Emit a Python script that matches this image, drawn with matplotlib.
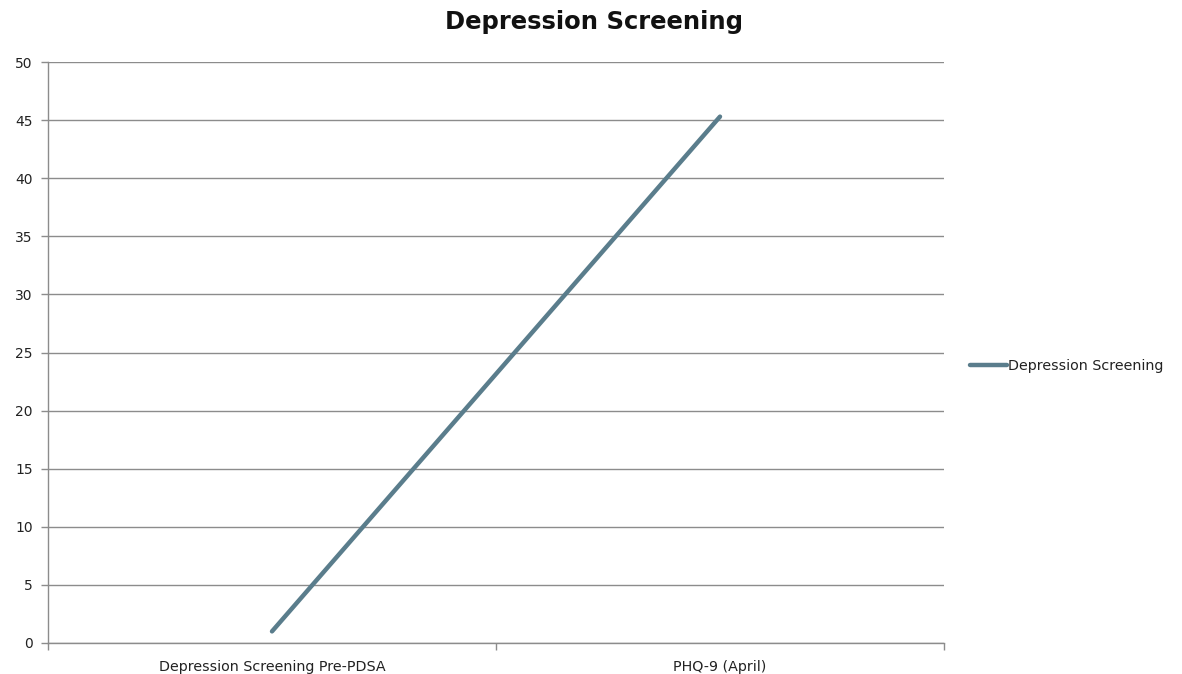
import matplotlib
matplotlib.use("Agg")
import matplotlib.pyplot as plt

categories = ["Depression Screening Pre-PDSA", "PHQ-9 (April)"]
values = [1, 45.3]
series_name = "Depression Screening"
title = "Depression Screening"
y_ticks = [0, 5, 10, 15, 20, 25, 30, 35, 40, 45, 50]

line_color = "#5A7D8C"
grid_color = "#8C8C8C"

fig = plt.figure(figsize=(11.82, 6.74), dpi=100)
ax = fig.add_axes([48 / 1182, 1 - 643 / 674, 896 / 1182, 581 / 674])

x = list(range(len(categories)))
ax.plot(x, values, color=line_color, lw=3.2, solid_capstyle="round", label=series_name)

ax.set_xlim(-0.5, len(categories) - 0.5)
ax.set_ylim(0, 50)
ax.set_yticks(y_ticks)
ax.set_yticklabels([str(v) for v in y_ticks], fontsize=10, color="#222222")
ax.yaxis.grid(True, color=grid_color, lw=1)
ax.set_axisbelow(True)

ax.set_xticks(x)
ax.set_xticklabels(categories, fontsize=10.3, color="#222222")
ax.set_xticks([i - 0.5 for i in range(len(categories) + 1)], minor=True)
ax.tick_params(axis="x", which="major", length=0, pad=12)
ax.tick_params(axis="x", which="minor", length=5, color=grid_color, width=1)
ax.tick_params(axis="y", length=5, color=grid_color, width=1, pad=6)

for side in ("top", "right"):
    ax.spines[side].set_visible(False)
for side in ("left", "bottom"):
    ax.spines[side].set_color(grid_color)
    ax.spines[side].set_linewidth(1)

fig.suptitle(title, x=594 / 1182, y=1 - 22 / 674, va="center",
             fontsize=17.5, fontweight="bold", color="#111111")

leg = ax.legend(loc="center left", bbox_to_anchor=(964 / 1182, 1 - 366 / 674),
                bbox_transform=fig.transFigure, frameon=False, fontsize=10.3,
                handlelength=2.6, handletextpad=0.1, borderaxespad=0)
for t in leg.get_texts():
    t.set_color("#222222")

fig.savefig("out.png", dpi=100)
